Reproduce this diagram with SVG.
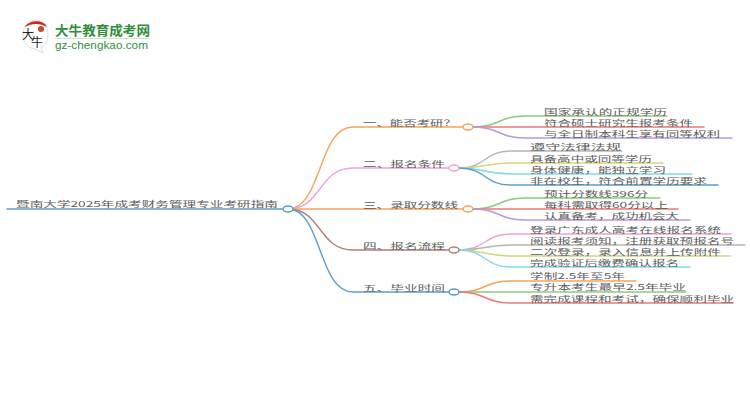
<svg xmlns="http://www.w3.org/2000/svg" width="750" height="410" viewBox="0 0 750 410">
<style>
text{font-family:"Noto Sans CJK SC","Liberation Sans",sans-serif;fill:#5c5c5c;font-size:8.2px}
.c{fill:none;stroke-width:1.4;stroke-linecap:round}
.n{fill:#fff;stroke-width:1.5}
.or{stroke:#f9a25b}.pk{stroke:#eba3d8}.br{stroke:#ab8378}.bl{stroke:#5a9fd0}.gn{stroke:#8ccb7c}.rd{stroke:#ec7a78}.pu{stroke:#b79ad8}.gy{stroke:#b5b5b5}.yl{stroke:#d5d77a}.cy{stroke:#7fdbe8}
</style>
<rect width="750" height="410" fill="#fff"/>
<g id="logo">
<path d="M36 20C28 20 23 27 23 35C23 43 28 48 35 49L43 53L41 47C46 45 48 40 48 35C48 27 44 20 36 20Z" fill="#fff" stroke="#ddd" stroke-width="1"/>
<path d="M25 27C29 20 43 19 47 27C40 23 32 23 25 27Z" fill="#c8281e"/>
<circle cx="41" cy="29" r="3" fill="#d0443a"/>
<text x="22" y="39" textLength="12" lengthAdjust="spacingAndGlyphs" style="font-size:12px;fill:#222">大</text>
<text x="31" y="47" textLength="12" lengthAdjust="spacingAndGlyphs" style="font-size:12px;fill:#222">牛</text>
<text x="55" y="35" textLength="95" lengthAdjust="spacingAndGlyphs" style="font-size:13px;font-weight:700;fill:#2f8f3a">大牛教育成考网</text>
<rect x="55" y="38" width="95" height="1" fill="#cfe3d0"/>
<text x="55" y="49" textLength="93" lengthAdjust="spacingAndGlyphs" style="font-size:10.5px;fill:#2f8f3a;font-family:'Liberation Sans',sans-serif">gz-chengkao.com</text>
</g>
<g id="connectors">
<path class="c bl" d="M7 209H283"/>
<path class="c or" d="M288 209C322 209 318 127 353 127H463"/>
<path class="c pk" d="M288 209C322 209 318 168 353 168H449"/>
<path class="c or" d="M288 209H463"/>
<path class="c br" d="M288 209C322 209 318 250 353 250H449"/>
<path class="c bl" d="M288 209C322 209 318 292 353 292H449"/>
<path class="c gn" d="M473 127C500 127 498 116 525 116H667"/>
<path class="c rd" d="M473 127H704"/>
<path class="c pu" d="M473 127C500 127 498 138 525 138H732"/>
<path class="c gy" d="M459 168C486 168 484 151 511 151H622"/>
<path class="c yl" d="M459 168C486 168 484 163 511 163H663"/>
<path class="c cy" d="M459 168C486 168 484 174 511 174H692"/>
<path class="c bl" d="M459 168C486 168 484 185 511 185H718"/>
<path class="c gn" d="M473 209C500 209 498 198 525 198H660"/>
<path class="c rd" d="M473 209H678"/>
<path class="c pu" d="M473 209C500 209 498 220 525 220H690"/>
<path class="c pk" d="M459 250C486 250 484 234 511 234H731"/>
<path class="c gy" d="M459 250C486 250 484 245 511 245H745"/>
<path class="c yl" d="M459 250C486 250 484 256 511 256H731"/>
<path class="c cy" d="M459 250C486 250 484 267 511 267H690"/>
<path class="c or" d="M459 292C486 292 484 281 511 281H636"/>
<path class="c gn" d="M459 292H686"/>
<path class="c rd" d="M459 292C486 292 484 303 511 303H733"/>
</g>
<g id="root"><text x="16" y="207" textLength="262" lengthAdjust="spacingAndGlyphs">暨南大学2025年成考财务管理专业考研指南</text><ellipse class="n bl" cx="288" cy="209" rx="5" ry="3"/></g>
<g id="b1"><text x="363" y="126" textLength="94" lengthAdjust="spacingAndGlyphs">一、能否考研？</text><ellipse class="n or" cx="468" cy="127" rx="5" ry="3"/></g>
<g id="b2"><text x="363" y="167" textLength="82" lengthAdjust="spacingAndGlyphs">二、报名条件</text><ellipse class="n pk" cx="454" cy="168" rx="5" ry="3"/></g>
<g id="b3"><text x="363" y="208" textLength="95" lengthAdjust="spacingAndGlyphs">三、录取分数线</text><ellipse class="n or" cx="468" cy="209" rx="5" ry="3"/></g>
<g id="b4"><text x="363" y="249" textLength="82" lengthAdjust="spacingAndGlyphs">四、报名流程</text><ellipse class="n br" cx="454" cy="250" rx="5" ry="3"/></g>
<g id="b5"><text x="363" y="291" textLength="82" lengthAdjust="spacingAndGlyphs">五、毕业时间</text><ellipse class="n bl" cx="454" cy="292" rx="5" ry="3"/></g>
<g id="l11"><text x="544" y="114.500" textLength="123" lengthAdjust="spacingAndGlyphs">国家承认的正规学历</text></g>
<g id="l12"><text x="544" y="125.500" textLength="149" lengthAdjust="spacingAndGlyphs">符合硕士研究生报考条件</text></g>
<g id="l13"><text x="544" y="137" textLength="176" lengthAdjust="spacingAndGlyphs">与全日制本科生享有同等权利</text></g>
<g id="l21"><text x="530" y="150" textLength="91" lengthAdjust="spacingAndGlyphs">遵守法律法规</text></g>
<g id="l22"><text x="530" y="161.500" textLength="122" lengthAdjust="spacingAndGlyphs">具备高中或同等学历</text></g>
<g id="l23"><text x="530" y="173" textLength="136" lengthAdjust="spacingAndGlyphs">身体健康，能独立学习</text></g>
<g id="l24"><text x="530" y="184" textLength="177" lengthAdjust="spacingAndGlyphs">非在校生，符合前置学历要求</text></g>
<g id="l31"><text x="544" y="197" textLength="104" lengthAdjust="spacingAndGlyphs">预计分数线396分</text></g>
<g id="l32"><text x="544" y="208" textLength="124" lengthAdjust="spacingAndGlyphs">每科需取得60分以上</text></g>
<g id="l33"><text x="544" y="219" textLength="135" lengthAdjust="spacingAndGlyphs">认真备考，成功机会大</text></g>
<g id="l41"><text x="530" y="233" textLength="191" lengthAdjust="spacingAndGlyphs">登录广东成人高考在线报名系统</text></g>
<g id="l42"><text x="530" y="244" textLength="204" lengthAdjust="spacingAndGlyphs">阅读报考须知，注册获取预报名号</text></g>
<g id="l43"><text x="530" y="255" textLength="191" lengthAdjust="spacingAndGlyphs">二次登录，录入信息并上传附件</text></g>
<g id="l44"><text x="530" y="266" textLength="149" lengthAdjust="spacingAndGlyphs">完成验证后缴费确认报名</text></g>
<g id="l51"><text x="530" y="279" textLength="95" lengthAdjust="spacingAndGlyphs">学制2.5年至5年</text></g>
<g id="l52"><text x="530" y="290" textLength="156" lengthAdjust="spacingAndGlyphs">专升本考生最早2.5年毕业</text></g>
<g id="l53"><text x="530" y="301.500" textLength="204" lengthAdjust="spacingAndGlyphs">需完成课程和考试，确保顺利毕业</text></g>
</svg>
